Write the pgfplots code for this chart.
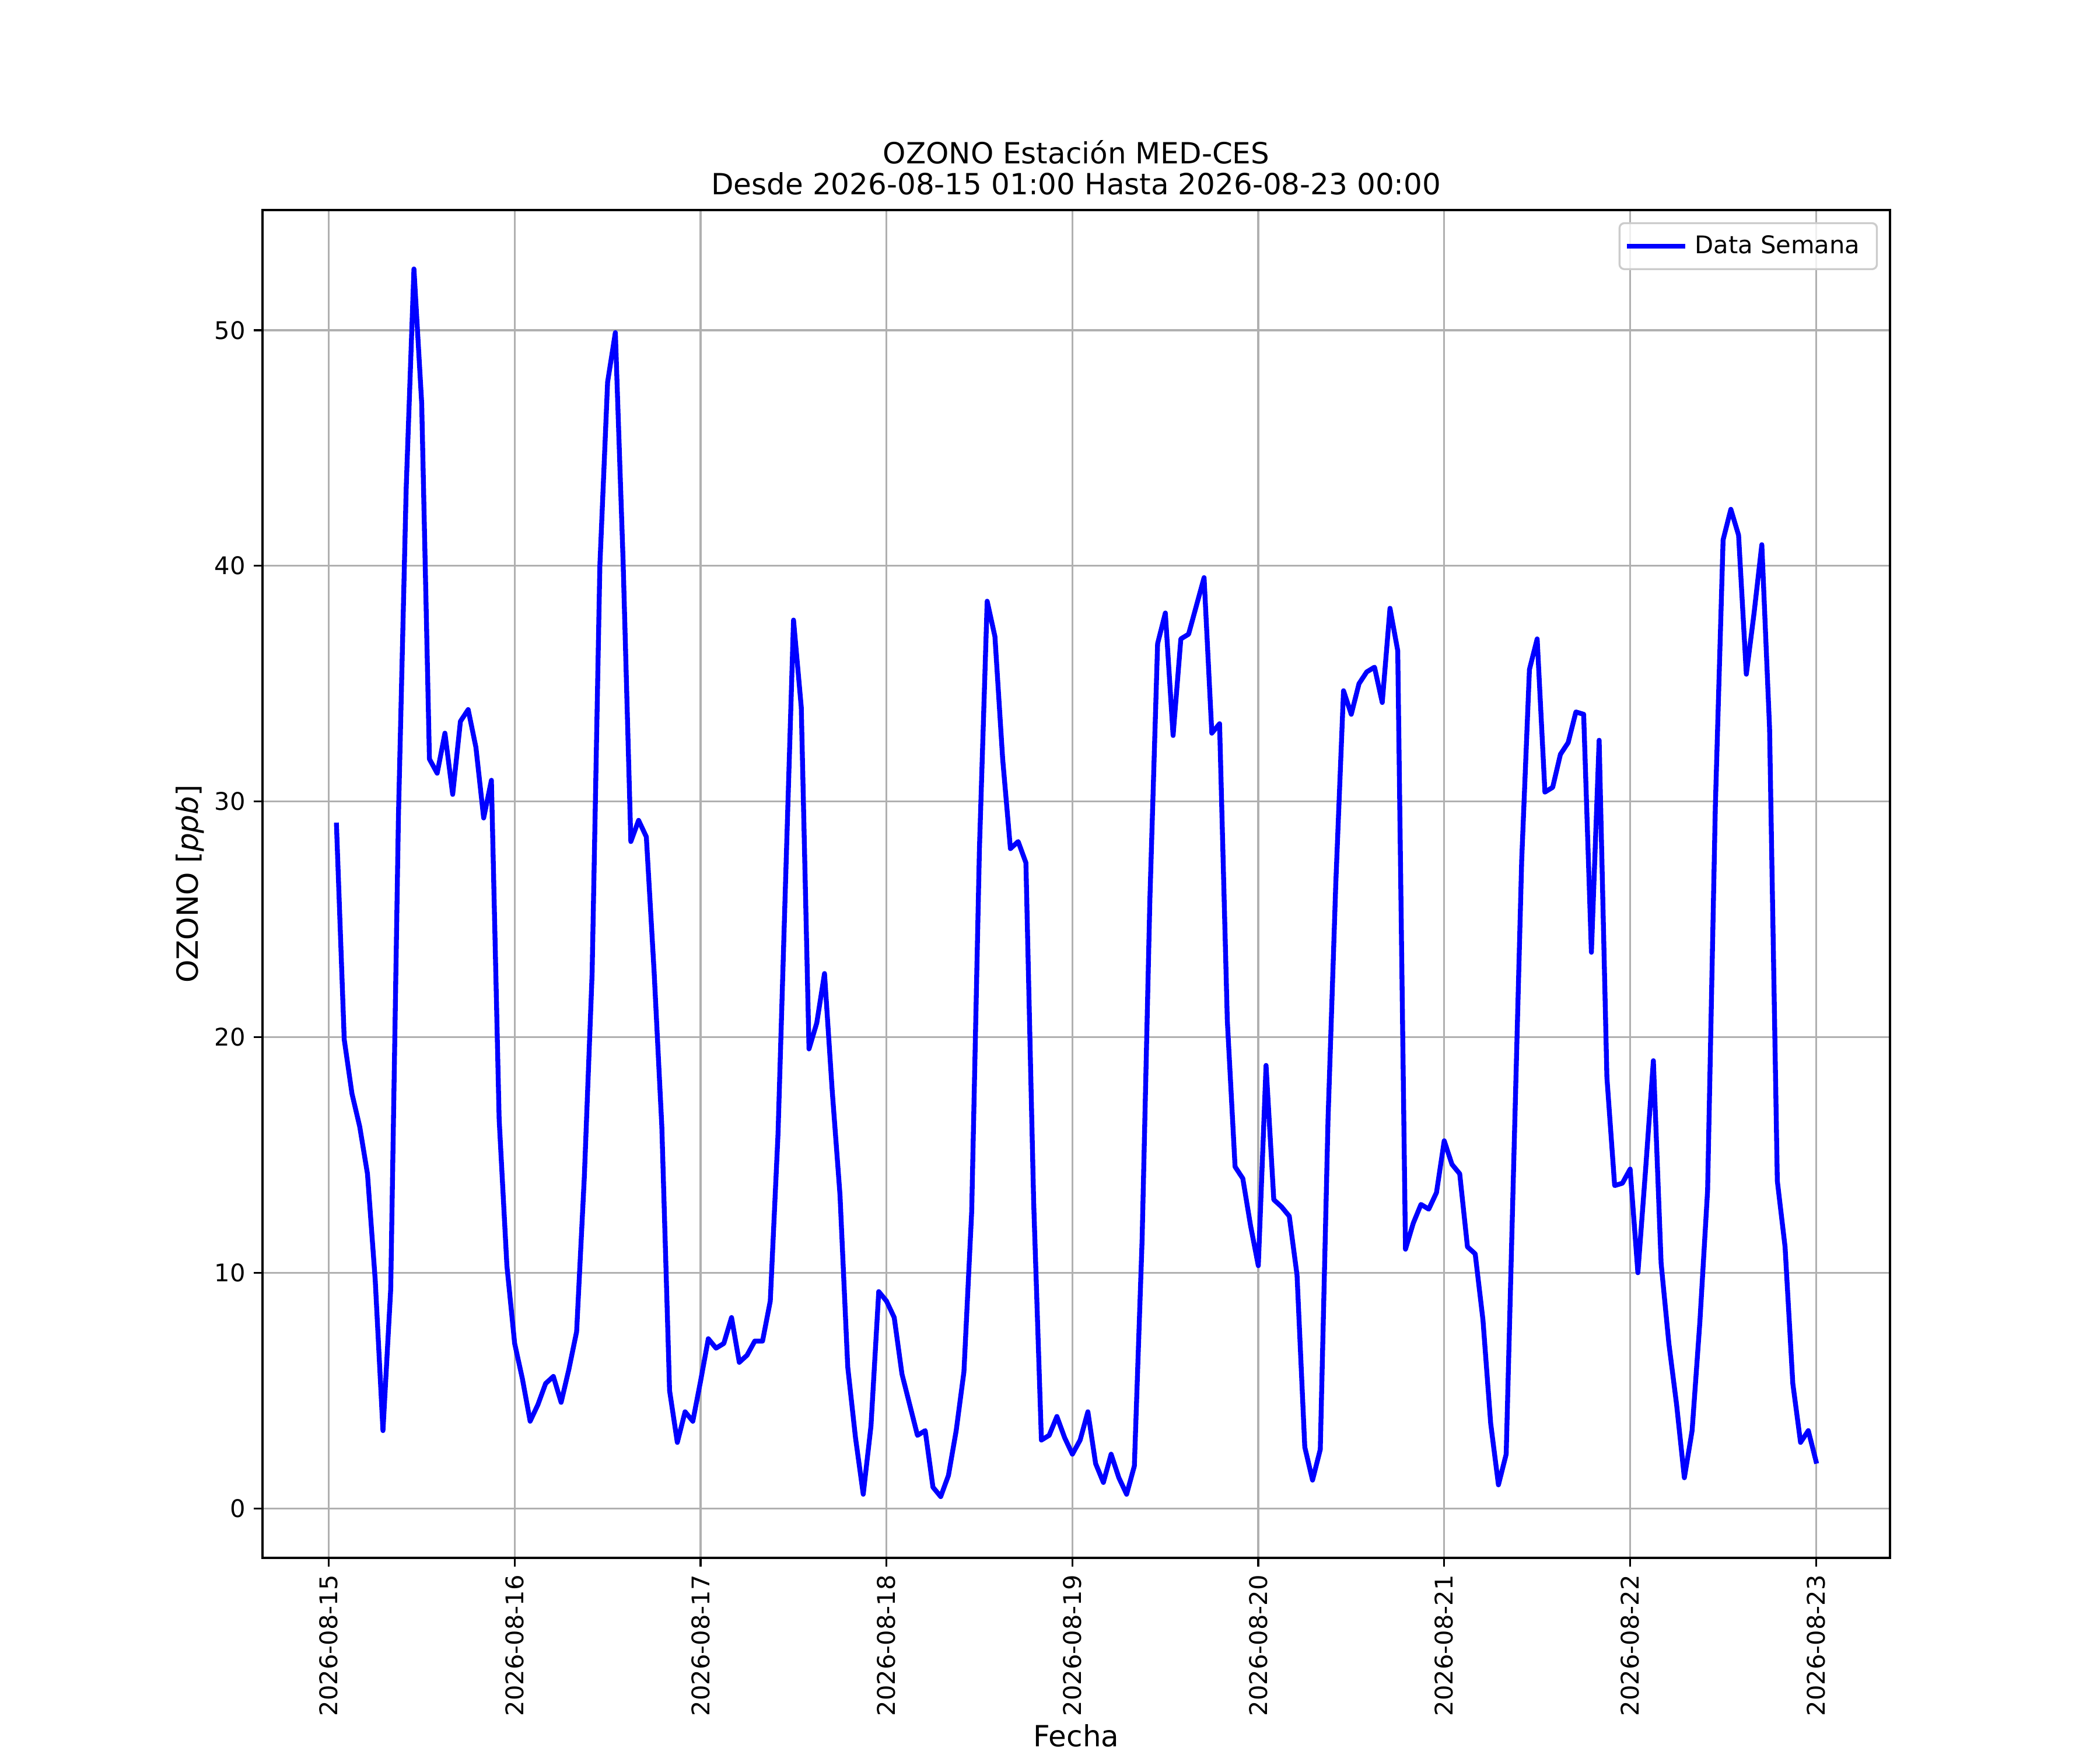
\documentclass[border=0pt]{standalone}
\usepackage{pgfplots}
\pgfplotsset{compat=1.18}
\usepackage{pgfplotstable}
\usepackage{fontspec}
\setmainfont{DejaVu Sans}
\definecolor{gridgray}{HTML}{B0B0B0}
\definecolor{legframe}{HTML}{CCCCCC}
\pgfplotstableread{
h v
1 29.0
2 19.9
3 17.6
4 16.2
5 14.2
6 9.7
7 3.3
8 9.3
9 29.4
10 43.3
11 52.6
12 46.9
13 31.8
14 31.2
15 32.9
16 30.3
17 33.4
18 33.9
19 32.3
20 29.3
21 30.9
22 16.5
23 10.3
24 7.0
25 5.5
26 3.7
27 4.4
28 5.3
29 5.6
30 4.5
31 5.9
32 7.5
33 14.1
34 22.7
35 40.0
36 47.8
37 49.9
38 40.2
39 28.3
40 29.2
41 28.5
42 22.8
43 16.2
44 5.0
45 2.8
46 4.1
47 3.7
48 5.4
49 7.2
50 6.8
51 7.0
52 8.1
53 6.2
54 6.5
55 7.1
56 7.1
57 8.8
58 15.9
59 26.9
60 37.7
61 34.0
62 19.5
63 20.6
64 22.7
65 17.7
66 13.3
67 6.0
68 3.0
69 0.6
70 3.5
71 9.2
72 8.8
73 8.1
74 5.7
75 4.4
76 3.1
77 3.3
78 0.9
79 0.5
80 1.4
81 3.3
82 5.8
83 12.6
84 28.0
85 38.5
86 37.0
87 31.8
88 28.0
89 28.3
90 27.4
91 13.0
92 2.9
93 3.1
94 3.9
95 3.0
96 2.3
97 2.9
98 4.1
99 1.9
100 1.1
101 2.3
102 1.3
103 0.6
104 1.8
105 11.4
106 25.8
107 36.7
108 38.0
109 32.8
110 36.9
111 37.1
112 38.3
113 39.5
114 32.9
115 33.3
116 20.7
117 14.5
118 14.0
119 12.0
120 10.3
121 18.8
122 13.1
123 12.8
124 12.4
125 9.9
126 2.6
127 1.2
128 2.5
129 16.5
130 26.5
131 34.7
132 33.7
133 35.0
134 35.5
135 35.7
136 34.2
137 38.2
138 36.4
139 11.0
140 12.1
141 12.9
142 12.7
143 13.4
144 15.6
145 14.6
146 14.2
147 11.1
148 10.8
149 8.0
150 3.6
151 1.0
152 2.3
153 15.0
154 27.5
155 35.6
156 36.9
157 30.4
158 30.6
159 32.0
160 32.5
161 33.8
162 33.7
163 23.6
164 32.6
165 18.3
166 13.7
167 13.8
168 14.4
169 10.0
170 14.4
171 19.0
172 10.4
173 7.0
174 4.4
175 1.3
176 3.3
177 7.9
178 13.5
179 29.8
180 41.1
181 42.4
182 41.3
183 35.4
184 38.0
185 40.9
186 33.1
187 13.9
188 11.1
189 5.3
190 2.8
191 3.3
192 2.0
}\ozono
\begin{document}
\begin{tikzpicture}
\path[use as bounding box, fill=white] (0,0) rectangle (864pt,720pt);
\begin{axis}[
  at={(108pt,79.2pt)}, anchor=south west,
  width=669.6pt, height=554.4pt, scale only axis,
  xmin=-8.55, xmax=201.55,
  ymin=-2.1, ymax=55.1,
  xtick={0,24,48,72,96,120,144,168,192},
  xticklabels={2026-08-15,2026-08-16,2026-08-17,2026-08-18,2026-08-19,2026-08-20,2026-08-21,2026-08-22,2026-08-23},
  ytick={0,10,20,30,40,50},
  /pgf/number format/assume math mode=true,
  tick label style={font=\fontsize{10}{12}\selectfont},
  x tick label style={rotate=90, anchor=east},
  tick align=outside, major tick length=3.5pt,
  tick style={black, line width=0.8pt},
  axis line style={black, line width=0.8pt},
  grid=major, major grid style={gridgray, line width=0.8pt},
  xtick pos=bottom, ytick pos=left,
  xlabel={Fecha}, ylabel={OZONO [\textit{ppb}]},
  label style={font=\fontsize{12}{14.4}\selectfont},
  xlabel style={yshift=3.5pt},
  ylabel style={yshift=-2.5pt},
  title={OZONO Estación MED-CES\\Desde 2026-08-15 01:00 Hasta 2026-08-23 00:00},
  title style={align=center, font=\fontsize{12}{12.8}\selectfont, yshift=-3.4pt},
  legend style={at={(1,1)}, anchor=north east, xshift=-5pt, yshift=-5pt,
    draw=legframe, line width=0.8pt, rounded corners=2pt, fill=white, fill opacity=0.8, text opacity=1,
    font=\fontsize{10}{12}\selectfont, inner xsep=3pt, inner ysep=3pt,
    nodes={inner xsep=4pt}},
  legend cell align=left,
  legend image code/.code={\draw[#1] (0pt,0pt) -- (22pt,0pt);},
]
\addplot[blue, line width=2pt, line join=round, line cap=rect] table[x=h, y=v] {\ozono};
\addlegendentry{Data Semana}
\end{axis}
\end{tikzpicture}
\end{document}
